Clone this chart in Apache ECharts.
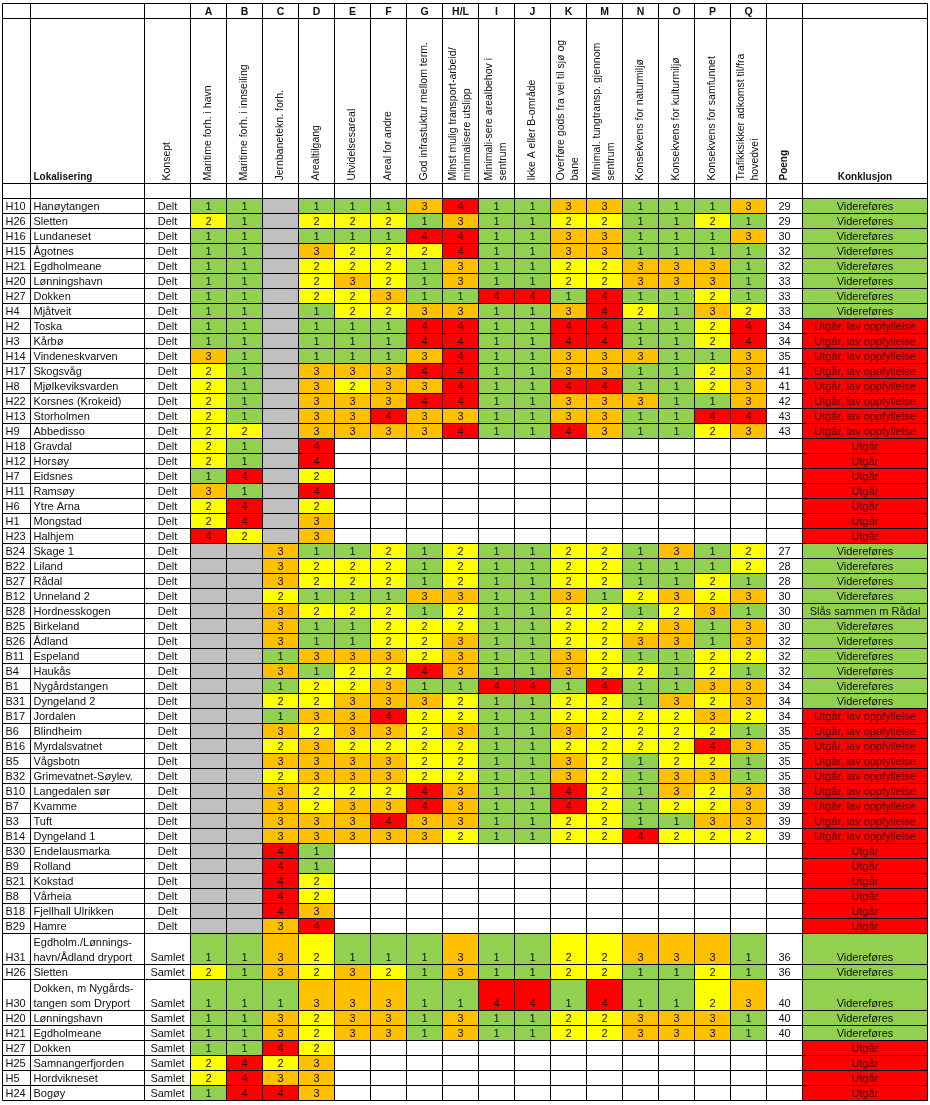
<!DOCTYPE html>
<html><head><meta charset="utf-8">
<script src="https://cdn.jsdelivr.net/npm/echarts@6/dist/echarts.min.js"></script>
<style>html,body{margin:0;padding:0;background:#fff}#c{width:930px;height:1105px}</style>
</head><body><div id="c"></div>
<script>
// ---------- DATA ----------
const columnLetters = ['A','B','C','D','E','F','G','H/L','I','J','K','M','N','O','P','Q'];
const criteria = [
  ['Maritime forh. i havn'], ['Maritime forh. i innseiling'], ['Jernbanetekn. forh.'], ['Arealtilgang'],
  ['Utvidelsesareal'], ['Areal for andre'], ['God infrastuktur mellom term.'],
  ['Minst mulig transport-arbeid/','minimalisere utslipp'], ['Minimali-sere arealbehov i','sentrum'],
  ['Ikke A eller B-område'], ['Overføre gods fra vei til sjø og','bane'], ['Minimal. tungtransp. gjennom','sentrum'],
  ['Konsekvens for naturmiljø'], ['Konsekvens for kulturmiljø'], ['Konsekvens for samfunnet'],
  ['Trafikksikker adkomst til/fra','hovedvei']
];
const ids = ['H10','H26','H16','H15','H21','H20','H27','H4','H2','H3','H14','H17','H8','H22','H13','H9',
  'H18','H12','H7','H11','H6','H1','H23',
  'B24','B22','B27','B12','B28','B25','B26','B11','B4','B1','B31','B17','B6','B16','B5','B32','B10','B7','B3','B14',
  'B30','B9','B21','B8','B18','B29',
  'H31','H26','H30','H20','H21','H27','H25','H5','H24'];
const names = ['Hanøytangen','Sletten','Lundaneset','Ågotnes','Egdholmeane','Lønningshavn','Dokken','Mjåtveit','Toska','Kårbø',
  'Vindeneskvarven','Skogsvåg','Mjølkeviksvarden','Korsnes (Krokeid)','Storholmen','Abbedisso',
  'Gravdal','Horsøy','Eidsnes','Ramsøy','Ytre Arna','Mongstad','Halhjem',
  'Skage 1','Liland','Rådal','Unneland 2','Hordnesskogen','Birkeland','Ådland','Espeland','Haukås','Nygårdstangen',
  'Dyngeland 2','Jordalen','Blindheim','Myrdalsvatnet','Vågsbotn','Grimevatnet-Søylev.','Langedalen sør','Kvamme','Tuft','Dyngeland 1',
  'Endelausmarka','Rolland','Kokstad','Vårheia','Fjellhall Ulrikken','Hamre',
  'Egdholm./Lønnings-\nhavn/Ådland dryport','Sletten','Dokken, m Nygårds-\ntangen som Dryport','Lønningshavn','Egdholmeane',
  'Dokken','Samnangerfjorden','Hordvikneset','Bogøy'];
const konsept = [...Array(49).fill('Delt'), ...Array(9).fill('Samlet')];
// 'x' = not assessed (grey); missing entries = blank
const scores = [
 [1,1,'x',1,1,1,3,4,1,1,3,3,1,1,1,3],
 [2,1,'x',2,2,2,1,3,1,1,2,2,1,1,2,1],
 [1,1,'x',1,1,1,4,4,1,1,3,3,1,1,1,3],
 [1,1,'x',3,2,2,2,4,1,1,3,3,1,1,1,1],
 [1,1,'x',2,2,2,1,3,1,1,2,2,3,3,3,1],
 [1,1,'x',2,3,2,1,3,1,1,2,2,3,3,3,1],
 [1,1,'x',2,2,3,1,1,4,4,1,4,1,1,2,1],
 [1,1,'x',1,2,2,3,3,1,1,3,4,2,1,3,2],
 [1,1,'x',1,1,1,4,4,1,1,4,4,1,1,2,4],
 [1,1,'x',1,1,1,4,4,1,1,4,4,1,1,2,4],
 [3,1,'x',1,1,1,3,4,1,1,3,3,3,1,1,3],
 [2,1,'x',3,3,3,4,4,1,1,3,3,1,1,2,3],
 [2,1,'x',3,2,3,3,4,1,1,4,4,1,1,2,3],
 [2,1,'x',3,3,3,4,4,1,1,3,3,3,1,1,3],
 [2,1,'x',3,3,4,3,3,1,1,3,3,1,1,4,4],
 [2,2,'x',3,3,3,3,4,1,1,4,3,1,1,2,3],
 [2,1,'x',4],
 [2,1,'x',4],
 [1,4,'x',2],
 [3,1,'x',4],
 [2,4,'x',2],
 [2,4,'x',3],
 [4,2,'x',3],
 ['x','x',3,1,1,2,1,2,1,1,2,2,1,3,1,2],
 ['x','x',3,2,2,2,1,2,1,1,2,2,1,1,1,2],
 ['x','x',3,2,2,2,1,2,1,1,2,2,1,1,2,1],
 ['x','x',2,1,1,1,3,3,1,1,3,1,2,3,2,3],
 ['x','x',3,2,2,2,1,2,1,1,2,2,1,2,3,1],
 ['x','x',3,1,1,2,2,2,1,1,2,2,2,3,1,3],
 ['x','x',3,1,1,2,2,3,1,1,2,2,3,3,1,3],
 ['x','x',1,3,3,3,2,3,1,1,3,2,1,1,2,2],
 ['x','x',3,1,2,2,4,3,1,1,3,2,2,1,2,1],
 ['x','x',1,2,2,3,1,1,4,4,1,4,1,1,3,3],
 ['x','x',2,2,3,3,3,2,1,1,2,2,1,3,2,3],
 ['x','x',1,3,3,4,2,2,1,1,2,2,2,2,3,2],
 ['x','x',3,2,3,3,2,3,1,1,3,2,2,2,2,1],
 ['x','x',2,3,2,2,2,2,1,1,2,2,2,2,4,3],
 ['x','x',3,3,3,3,2,2,1,1,3,2,1,2,2,1],
 ['x','x',2,3,3,3,2,2,1,1,3,2,1,3,3,1],
 ['x','x',3,2,2,2,4,3,1,1,4,2,1,3,2,3],
 ['x','x',3,2,3,3,4,3,1,1,4,2,1,2,2,3],
 ['x','x',3,3,3,4,3,3,1,1,2,2,1,1,3,3],
 ['x','x',3,3,3,3,3,2,1,1,2,2,4,2,2,2],
 ['x','x',4,1],
 ['x','x',4,1],
 ['x','x',4,2],
 ['x','x',4,2],
 ['x','x',4,3],
 ['x','x',3,4],
 [1,1,3,2,1,1,1,3,1,1,2,2,3,3,3,1],
 [2,1,3,2,3,2,1,3,1,1,2,2,1,1,2,1],
 [1,1,1,3,3,3,1,1,4,4,1,4,1,1,2,3],
 [1,1,3,2,3,3,1,3,1,1,2,2,3,3,3,1],
 [1,1,3,2,3,3,1,3,1,1,2,2,3,3,3,1],
 [1,1,4,2],
 [2,4,2,3],
 [2,4,3,3],
 [1,4,4,3]
];
const poeng = [29,29,30,32,32,33,33,33,34,34,35,41,41,42,43,43,
  null,null,null,null,null,null,null,
  27,28,28,30,30,30,32,32,32,34,34,34,35,35,35,35,38,39,39,39,
  null,null,null,null,null,null,
  36,36,40,40,40,null,null,null,null];
const V='Videreføres', L='Utgår, lav oppfyllelse', U='Utgår', S='Slås sammen m Rådal';
const konklusjon = [V,V,V,V,V,V,V,V, L,L,L,L,L,L,L,L, U,U,U,U,U,U,U,
  V,V,V,V,S,V,V,V,V,V,V, L,L,L,L,L,L,L,L,L, U,U,U,U,U,U,
  V,V,V,V,V, U,U,U,U];

// ---------- LAYOUT / STYLE ----------
const scoreColors = {1:'#92D050', 2:'#FFFF00', 3:'#FFC000', 4:'#FF0000', x:'#C0C0C0'};
const colWidths = [28,114,46,...Array(16).fill(36),36,125];
const colX = [0]; colWidths.forEach(w => colX.push(colX[colX.length-1]+w));
const NC = colWidths.length; // 21
const FONT = '"Liberation Sans", Arial, sans-serif';

const cells = [];
function cell(col, y0, y1, fill, texts){ cells.push({x0:colX[col], x1:colX[col+1], y0, y1, fill, texts:texts||[]}); }

let y = 0;
// header row 1: letters
for (let c=0;c<NC;c++){
  const k=c-3;
  cell(c, y, y+15, '#fff', (k>=0&&k<16)?[{t:columnLetters[k], pos:'center', bold:true, size:10.5}]:[]);
}
y += 15;
// header row 2: rotated criteria
const h2 = 165;
for (let c=0;c<NC;c++){
  let texts=[];
  const k=c-3;
  if (c===1) texts=[{t:'Lokalisering', pos:'left', bold:true, size:10}];
  else if (c===2) texts=[{t:'Konsept', rot:true}];
  else if (k>=0&&k<16){
    const lines=criteria[k];
    if (lines.length===1) texts=[{t:lines[0], rot:true, dx:0}];
    else texts=[{t:lines[0], rot:true, dx:-7},{t:lines[1], rot:true, dx:7}];
  }
  else if (c===19) texts=[{t:'Poeng', rot:true, bold:true, size:10}];
  else if (c===20) texts=[{t:'Konklusjon', pos:'center', bold:true, size:10}];
  cell(c, y, y+h2, '#fff', texts);
}
y += h2;
// blank row
for (let c=0;c<NC;c++) cell(c, y, y+15, '#fff');
y += 15;
// data rows
ids.forEach((id,i)=>{
  const nameLines = names[i].split('\n');
  const h = 15*nameLines.length + (nameLines.length-1);
  cell(0, y, y+h, '#fff', [{t:id, pos:'left'}]);
  cell(1, y, y+h, '#fff', nameLines.map((t,j)=>({t, pos:'left', line:nameLines.length-1-j})));
  cell(2, y, y+h, '#fff', [{t:konsept[i], pos:'center'}]);
  for (let k=0;k<16;k++){
    const v = scores[i][k];
    if (v===undefined || v===null) cell(3+k, y, y+h, '#fff');
    else if (v==='x') cell(3+k, y, y+h, scoreColors.x);
    else cell(3+k, y, y+h, scoreColors[v], [{t:String(v), pos:'center'}]);
  }
  cell(19, y, y+h, '#fff', poeng[i]==null?[]:[{t:String(poeng[i]), pos:'center'}]);
  const kk = konklusjon[i];
  const isOut = kk.indexOf('Utgår')===0;
  cell(20, y, y+h, isOut?'#FF0000':'#92D050', [{t:kk, pos:'center', color:isOut?'#3a0000':'#111'}]);
  y += h;
});
const totalH = y;
const totalW = colX[NC];

const chart = echarts.init(document.getElementById('c'), null, {renderer:'canvas'});
chart.setOption({
  animation:false,
  grid:{left:2.5, top:3.5, width:totalW, height:totalH},
  xAxis:{type:'value', min:0, max:totalW, show:false},
  yAxis:{type:'value', min:0, max:totalH, inverse:true, show:false},
  series:[{
    type:'custom',
    dimensions:['x0','x1','y0','y1'],
    encode:{x:[0,1], y:[2,3]},
    data: cells.map(c=>[c.x0,c.x1,c.y0,c.y1]),
    renderItem(params, api){
      const c = cells[params.dataIndex];
      const p0 = api.coord([api.value(0), api.value(2)]);
      const p1 = api.coord([api.value(1), api.value(3)]);
      const x = Math.min(p0[0],p1[0]), yy = Math.min(p0[1],p1[1]);
      const w = Math.abs(p1[0]-p0[0]), h = Math.abs(p1[1]-p0[1]);
      const ch = [
        {type:'rect', z2:0, shape:{x, y:yy, width:w, height:h}, style:{fill:c.fill}},
        {type:'rect', z2:5, shape:{x, y:yy, width:w, height:h}, style:{fill:'none', stroke:'#000', lineWidth:1}}
      ];
      c.texts.forEach(t=>{
        if (t.rot){
          const font = (t.bold?'bold ':'') + (t.size||10.5) + 'px ' + FONT;
          ch.push({type:'text', z2:10, x:x+w/2+(t.dx||0), y:yy+h-3, rotation:Math.PI/2,
            style:{text:t.t, x:0, y:0, align:'left', verticalAlign:'middle', fill:'#111', font}});
        } else {
          const font = (t.bold?'bold ':'') + (t.size||11) + 'px ' + FONT;
          ch.push({type:'text', z2:10, x: t.pos==='left'? x+3 : x+w/2, y: yy+h-6.5-15*(t.line||0),
            style:{text:t.t, x:0, y:0, align:t.pos==='left'?'left':'center', verticalAlign:'middle', fill:t.color||'#111', font}});
        }
      });
      return {type:'group', children:ch};
    }
  }]
});
</script>
</body></html>
